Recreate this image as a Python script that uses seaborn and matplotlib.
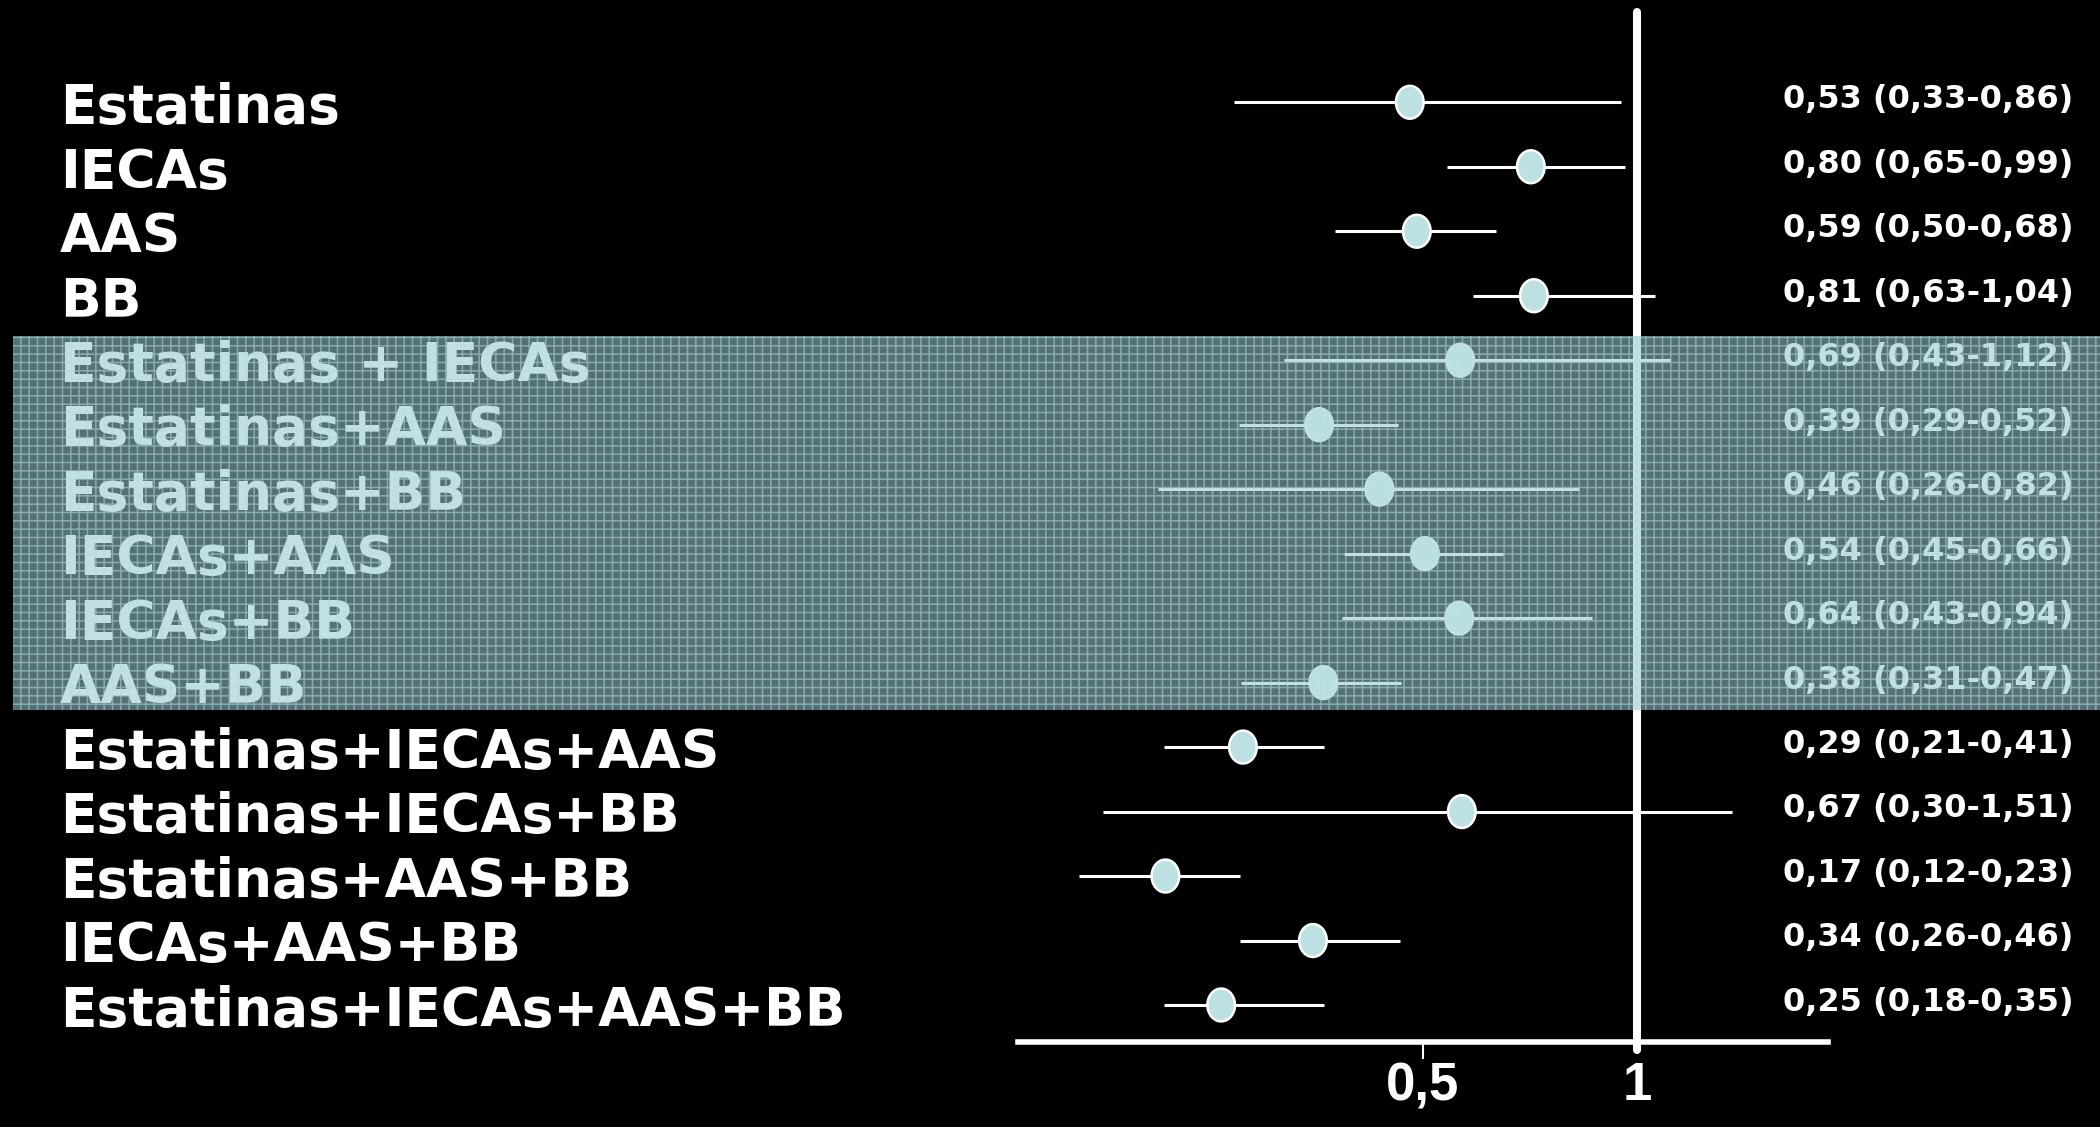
import numpy as np
import pandas as pd
import matplotlib
matplotlib.use("Agg")
import matplotlib.pyplot as plt
import matplotlib.transforms as mtransforms
from matplotlib.patches import Rectangle
from matplotlib.path import Path
from matplotlib.ticker import NullLocator, FixedLocator, FixedFormatter
import seaborn as sns

# Treatments, top to bottom
treatments = [
    "Estatinas", "IECAs", "AAS", "BB",
    "Estatinas + IECAs", "Estatinas+AAS", "Estatinas+BB",
    "IECAs+AAS", "IECAs+BB", "AAS+BB",
    "Estatinas+IECAs+AAS", "Estatinas+IECAs+BB", "Estatinas+AAS+BB",
    "IECAs+AAS+BB", "Estatinas+IECAs+AAS+BB",
]
hr_labels = [
    "0,53 (0,33-0,86)", "0,80 (0,65-0,99)", "0,59 (0,50-0,68)", "0,81 (0,63-1,04)",
    "0,69 (0,43-1,12)", "0,39 (0,29-0,52)", "0,46 (0,26-0,82)",
    "0,54 (0,45-0,66)", "0,64 (0,43-0,94)", "0,38 (0,31-0,47)",
    "0,29 (0,21-0,41)", "0,67 (0,30-1,51)", "0,17 (0,12-0,23)",
    "0,34 (0,26-0,46)", "0,25 (0,18-0,35)",
]
# where the marks sit on the slide's log axis
point_pos = [0.479, 0.709, 0.490, 0.716, 0.564, 0.357, 0.434, 0.503,
             0.562, 0.362, 0.279, 0.567, 0.217, 0.350, 0.260]
ci_low = [0.271, 0.540, 0.376, 0.588, 0.319, 0.275, 0.212, 0.387,
          0.384, 0.277, 0.216, 0.177, 0.164, 0.276, 0.216]
ci_high = [0.950, 0.962, 0.633, 1.060, 1.113, 0.461, 0.829, 0.648,
           0.864, 0.465, 0.363, 1.360, 0.276, 0.464, 0.363]
# the two-drug combinations are highlighted on the slide
highlighted = [False] * 4 + [True] * 6 + [False] * 5

df = pd.DataFrame({
    "treatment": treatments,
    "row": np.arange(len(treatments)),
    "hr": point_pos,
    "lo": ci_low,
    "hi": ci_high,
    "band": highlighted,
})

sns.set_theme(style="dark")
plt.rcParams["font.family"] = ["DejaVu Sans"]
plt.rcParams["hatch.linewidth"] = 1.1

fig = plt.figure(figsize=(21, 11.27), dpi=100, facecolor="black")
ax = fig.add_axes([1018 / 2100, 1 - 1042 / 1127, 810 / 2100, 1030 / 1127])
ax.set_facecolor("black")

ax.set_xscale("log")
ax.set_xlim(0.1346, 1.857)
ax.set_ylim(14.574, -1.40)

# confidence intervals
ax.hlines(df["row"], df["lo"], df["hi"], color="white", lw=2.2, zorder=2)

# reference line at 1
ax.axvline(1, color="white", lw=5.8, ymin=-0.008, clip_on=False, zorder=1)

# point estimates as upright ellipses
t = np.linspace(0, 2 * np.pi, 80)
ellipse = Path(np.column_stack([0.84 * np.cos(t), np.sin(t)]), closed=True)
sns.scatterplot(data=df, x="hr", y="row", hue="band",
                palette={False: "#bde0e3", True: "#f0ffff"},
                marker=ellipse, s=560, edgecolor="white", linewidth=1.8,
                legend=False, zorder=3, ax=ax)

# axis styling
for side in ["top", "left", "right"]:
    ax.spines[side].set_visible(False)
ax.spines["bottom"].set_color("white")
ax.spines["bottom"].set_linewidth(4)
ax.grid(False)
ax.set_xlabel("")
ax.set_ylabel("")
ax.set_yticks([])
ax.xaxis.set_major_locator(FixedLocator([0.5, 1]))
ax.xaxis.set_major_formatter(FixedFormatter(["0,5", "1"]))
ax.xaxis.set_minor_locator(NullLocator())
ax.tick_params(axis="x", colors="white", length=12, width=1.5, pad=2,
               bottom=True, labelsize=38)
for lab in ax.get_xticklabels():
    lab.set_fontfamily("Liberation Sans")
    lab.set_fontweight("bold")
ax.xaxis.get_major_ticks()[1].tick1line.set_visible(False)

# row labels left and HR (95% CI) labels right
trans = mtransforms.blended_transform_factory(fig.transFigure, ax.transData)
for _, r in df.iterrows():
    ax.text(60 / 2100, r["row"] + 0.09, r["treatment"], transform=trans,
            color="white", fontsize=38.5, fontweight="bold", va="center",
            ha="left", clip_on=False, zorder=4)
for i, lab in enumerate(hr_labels):
    ax.text(1783 / 2100, i - 0.04, lab, transform=trans, color="white",
            fontsize=23, fontweight="bold", va="center", ha="left",
            clip_on=False, zorder=4)

# highlight band over the two-drug combinations
rows_band = df.loc[df["band"], "row"]
y0 = rows_band.min() - 0.38
y1 = rows_band.max() + 0.42
ax.add_patch(Rectangle((13 / 2100, y0), 1 - 13 / 2100, y1 - y0, transform=trans,
                       facecolor=(0.60, 0.78, 0.80, 0.57), edgecolor="none",
                       clip_on=False, zorder=10))
ax.add_patch(Rectangle((13 / 2100, y0), 1 - 13 / 2100, y1 - y0, transform=trans,
                       facecolor="none", edgecolor=(0.68, 0.88, 0.90, 0.55),
                       hatch="++", lw=0, clip_on=False, zorder=11))

fig.savefig("out.png", dpi=100, facecolor="black")
